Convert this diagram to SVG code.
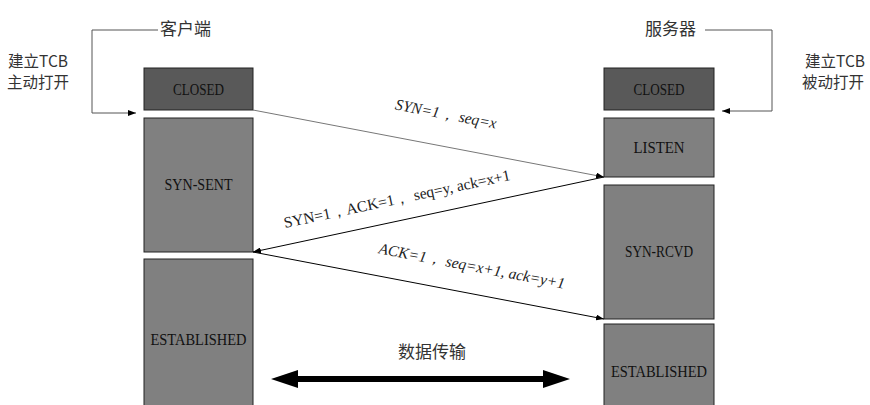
<svg xmlns="http://www.w3.org/2000/svg" width="870" height="405" viewBox="0 0 870 405">
<style>
.box{stroke:#222;stroke-width:1}
.dark{fill:#595959}
.mid{fill:#808080}
.bt{font-family:"Liberation Serif","DejaVu Serif",serif;font-size:16px;fill:#111;text-anchor:middle}
.cn{font-family:"Noto Sans CJK SC",sans-serif;font-size:17px;fill:#333}
.side{font-family:"Noto Sans CJK SC",sans-serif;font-size:15.5px;fill:#333;text-anchor:middle}
.lbl{font-family:"Liberation Serif",serif;font-size:15.5px;fill:#222;text-anchor:middle}
.conn{fill:none;stroke-width:1}
</style>
<defs>
<marker id="ah" markerWidth="8" markerHeight="6" refX="8" refY="3" orient="auto" markerUnits="userSpaceOnUse">
<path d="M0,0 L8,3 L0,6 Z" fill="#000"/>
</marker>
</defs>
<rect width="870" height="405" fill="#fff"/>
<g id="client-closed"><rect class="box dark" x="144" y="68" width="109" height="42"/><text class="bt" x="198.5" y="95" textLength="51" lengthAdjust="spacingAndGlyphs">CLOSED</text></g>
<g id="client-synsent"><rect class="box mid" x="144" y="118" width="109" height="134"/><text class="bt" x="198.5" y="190" textLength="68" lengthAdjust="spacingAndGlyphs">SYN-SENT</text></g>
<g id="client-established"><rect class="box mid" x="144" y="259" width="109" height="150"/><text class="bt" x="198.5" y="345" textLength="96" lengthAdjust="spacingAndGlyphs">ESTABLISHED</text></g>
<g id="server-closed"><rect class="box dark" x="604" y="68" width="110" height="42"/><text class="bt" x="659" y="95" textLength="51" lengthAdjust="spacingAndGlyphs">CLOSED</text></g>
<g id="server-listen"><rect class="box mid" x="604" y="118" width="110" height="59"/><text class="bt" x="659" y="153" textLength="51" lengthAdjust="spacingAndGlyphs">LISTEN</text></g>
<g id="server-synrcvd"><rect class="box mid" x="604" y="185" width="110" height="134"/><text class="bt" x="659" y="257" textLength="68" lengthAdjust="spacingAndGlyphs">SYN-RCVD</text></g>
<g id="server-established"><rect class="box mid" x="604" y="324" width="110" height="85"/><text class="bt" x="659" y="377" textLength="96" lengthAdjust="spacingAndGlyphs">ESTABLISHED</text></g>
<g id="labels">
<text class="cn" x="160" y="35">客户端</text>
<text class="cn" x="645" y="35">服务器</text>
<text class="side" x="38" y="67">建立TCB</text>
<text class="side" x="38" y="88">主动打开</text>
<text class="side" x="835" y="67">建立TCB</text>
<text class="side" x="833" y="88">被动打开</text>
<text class="cn" x="432" y="358" text-anchor="middle">数据传输</text>
<text class="lbl" font-style="italic" transform="translate(445,119) rotate(10.8)">SYN=1，  seq=x</text>
<text class="lbl" transform="translate(398,204) rotate(-12)">SYN=1，ACK=1，  seq=y, ack=x+1</text>
<text class="lbl" font-style="italic" transform="translate(471,271) rotate(10.8)">ACK=1，  seq=x+1, ack=y+1</text>
</g>
<g id="connectors">
<path class="conn" stroke="#555" d="M158,30 H92 V113 H136" marker-end="url(#ah)"/>
<path class="conn" stroke="#555" d="M705,30 H772 V111 H722" marker-end="url(#ah)"/>
<path class="conn" stroke="#777" d="M253,110 L604,177" marker-end="url(#ah)"/>
<path class="conn" stroke="#000" d="M604,177 L253,252" marker-end="url(#ah)"/>
<path class="conn" stroke="#000" d="M253,252 L604,319" marker-end="url(#ah)"/>
<path fill="none" stroke="#000" stroke-width="6" d="M290,379 H551"/>
<path d="M271,379 L298,370 L298,388 Z M570,379 L543,370 L543,388 Z" fill="#000"/>
</g>
</svg>
